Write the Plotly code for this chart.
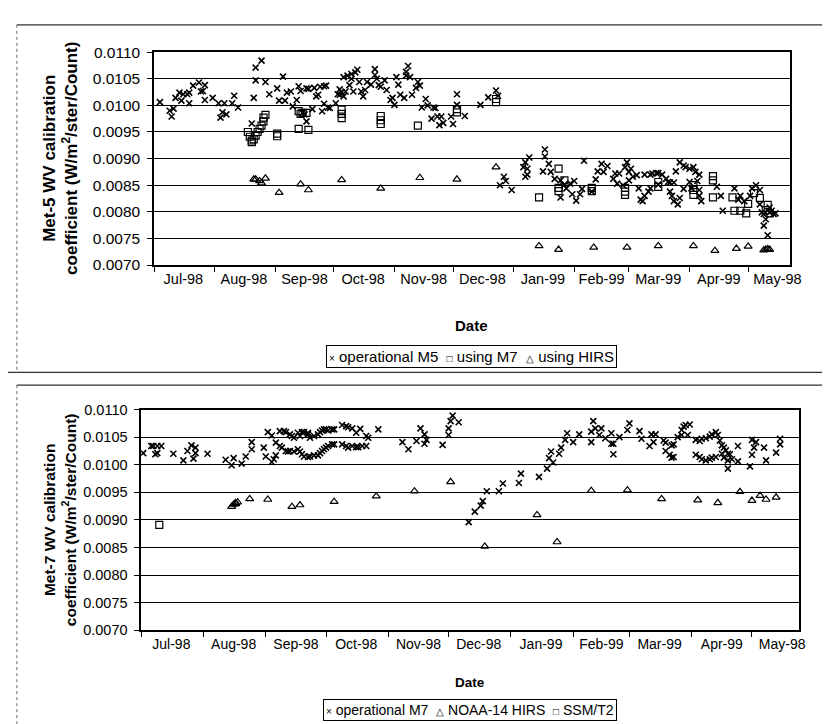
import plotly.graph_objects as go

W, H = 830, 724

# ---------------- axis labels ----------------
month_starts = ["1998-07-01", "1998-08-01", "1998-09-01", "1998-10-01", "1998-11-01",
                "1998-12-01", "1999-01-01", "1999-02-01", "1999-03-01", "1999-04-01",
                "1999-05-01"]
month_mids = ["1998-07-16", "1998-08-16", "1998-09-16", "1998-10-16", "1998-11-16",
              "1998-12-16", "1999-01-16", "1999-02-15", "1999-03-16", "1999-04-16",
              "1999-05-16"]
month_labels = ["Jul-98", "Aug-98", "Sep-98", "Oct-98", "Nov-98", "Dec-98",
                "Jan-99", "Feb-99", "Mar-99", "Apr-99", "May-98"]
y_ticks = [0.0070, 0.0075, 0.0080, 0.0085, 0.0090, 0.0095, 0.0100, 0.0105, 0.0110]

# ---------------- Met-5 panel ----------------
m5_op_dates = [
 "1998-07-04","1998-07-09","1998-07-10","1998-07-11","1998-07-12","1998-07-14","1998-07-15","1998-07-16",
 "1998-07-18","1998-07-19","1998-07-19","1998-07-21","1998-07-24","1998-07-25","1998-07-26","1998-07-27",
 "1998-07-27","1998-07-31","1998-08-03","1998-08-04","1998-08-05","1998-08-07","1998-08-06","1998-08-10",
 "1998-08-11","1998-08-13","1998-08-20","1998-08-21","1998-08-22","1998-08-22","1998-08-25","1998-08-27",
 "1998-08-29","1998-09-02","1998-09-05","1998-09-03","1998-09-06","1998-09-07","1998-09-09","1998-09-10",
 "1998-09-12","1998-09-13","1998-09-14","1998-09-15","1998-09-16","1998-09-17","1998-09-17","1998-09-18",
 "1998-09-20","1998-09-21","1998-09-22","1998-09-23","1998-09-24","1998-09-25","1998-09-26","1998-09-26",
 "1998-09-27","1998-09-28","1998-09-29","1998-10-02","1998-10-03","1998-10-04","1998-10-04","1998-10-05",
 "1998-10-06","1998-10-06","1998-10-07","1998-10-08","1998-10-09","1998-10-10","1998-10-10","1998-10-11",
 "1998-10-12","1998-10-13","1998-10-14","1998-10-15","1998-10-16","1998-10-17","1998-10-18","1998-10-20",
 "1998-10-22","1998-10-22","1998-10-23","1998-10-24","1998-10-25","1998-10-27","1998-10-28","1998-10-30",
 "1998-10-31","1998-11-01","1998-11-02","1998-11-03","1998-11-04","1998-11-06","1998-11-07","1998-11-07",
 "1998-11-08","1998-11-09","1998-11-10","1998-11-12","1998-11-13","1998-11-14","1998-11-15","1998-11-17",
 "1998-11-18","1998-11-21","1998-11-20","1998-11-22","1998-11-23","1998-11-24","1998-11-25","1998-11-26",
 "1998-11-30","1998-12-01","1998-12-03","1998-12-03","1998-12-07","1998-12-15","1998-12-19","1998-12-23",
 "1998-12-24","1998-12-25","1998-12-27","1998-12-28","1998-12-31","1999-01-06","1999-01-07","1999-01-08",
 "1999-01-07","1999-01-09","1999-01-08","1999-01-17","1999-01-17","1999-01-16","1999-01-19","1999-01-20",
 "1999-01-22","1999-01-25","1999-01-27","1999-01-25","1999-01-28","1999-01-30","1999-01-31","1999-02-01",
 "1999-02-02","1999-02-04","1999-02-06","1999-02-05","1999-02-10","1999-02-12","1999-02-13","1999-02-15",
 "1999-02-16","1999-02-18","1999-02-21","1999-02-22","1999-02-23","1999-02-24","1999-02-26","1999-02-27",
 "1999-02-28","1999-03-01","1999-03-01","1999-03-02","1999-03-03","1999-03-05","1999-03-06","1999-03-07",
 "1999-03-08","1999-03-09","1999-03-11","1999-03-12","1999-03-09","1999-03-12","1999-03-13","1999-03-15",
 "1999-03-16","1999-03-18","1999-03-16","1999-03-20","1999-03-21","1999-03-22","1999-03-24","1999-03-25",
 "1999-03-22","1999-03-23","1999-03-24","1999-03-26","1999-03-27","1999-03-27","1999-03-29","1999-03-29",
 "1999-03-30","1999-04-01","1999-04-01","1999-04-02","1999-04-03","1999-04-04","1999-04-05","1999-04-06",
 "1999-04-06","1999-04-07","1999-04-06","1999-04-15","1999-04-17","1999-04-18","1999-04-24","1999-04-26",
 "1999-04-27","1999-04-29","1999-05-02","1999-05-03","1999-05-05","1999-05-07","1999-05-07","1999-05-08",
 "1999-05-09","1999-05-11","1999-05-10","1999-05-12","1999-05-12","1999-05-13","1999-05-14","1999-05-15",
 "1999-05-09"]
m5_op_vals = [
 0.01006,0.00990,0.00979,0.00994,0.01014,0.01024,0.01009,0.01021,
 0.01021,0.01024,0.01004,0.01037,0.01043,0.01026,0.01027,0.01038,
 0.01010,0.01014,0.01004,0.00977,0.00987,0.00983,0.01004,0.01004,
 0.01018,0.00996,0.00966,0.01014,0.01047,0.01071,0.01084,0.01044,
 0.01021,0.01032,0.01054,0.01009,0.01009,0.01024,0.01026,0.00998,
 0.01010,0.01036,0.01027,0.00986,0.00983,0.00970,0.01032,0.01031,
 0.00993,0.01033,0.01017,0.01020,0.01035,0.00989,0.01036,0.01003,
 0.01037,0.00996,0.00995,0.01004,0.01021,0.01020,0.01030,0.01025,
 0.01017,0.01053,0.01026,0.01056,0.01038,0.01050,0.01059,0.01026,
 0.01062,0.01067,0.01044,0.01026,0.01017,0.01029,0.01044,0.01039,
 0.01068,0.01057,0.01050,0.01038,0.01035,0.01047,0.01029,0.01010,
 0.01014,0.01001,0.01053,0.01039,0.01020,0.01014,0.01056,0.01063,
 0.01074,0.01053,0.01020,0.01033,0.01044,0.01037,0.00996,0.01012,
 0.01000,0.00996,0.00975,0.00995,0.00979,0.00963,0.00979,0.00967,
 0.00979,0.00965,0.01021,0.01001,0.00980,0.01001,0.01015,0.01028,
 0.01018,0.00850,0.00866,0.00858,0.00841,0.00884,0.00893,0.00881,
 0.00866,0.00902,0.00870,0.00917,0.00904,0.00876,0.00890,0.00875,
 0.00862,0.00859,0.00851,0.00827,0.00844,0.00853,0.00833,0.00858,
 0.00821,0.00833,0.00896,0.00843,0.00838,0.00861,0.00876,0.00890,
 0.00875,0.00886,0.00862,0.00872,0.00853,0.00872,0.00850,0.00884,
 0.00893,0.00875,0.00859,0.00881,0.00866,0.00869,0.00844,0.00823,
 0.00820,0.00830,0.00838,0.00844,0.00870,0.00870,0.00872,0.00873,
 0.00873,0.00870,0.00851,0.00862,0.00856,0.00855,0.00855,0.00876,
 0.00838,0.00830,0.00820,0.00814,0.00826,0.00893,0.00887,0.00843,
 0.00884,0.00881,0.00856,0.00844,0.00884,0.00875,0.00858,0.00841,
 0.00830,0.00820,0.00870,0.00847,0.00830,0.00802,0.00844,0.00823,
 0.00830,0.00820,0.00830,0.00844,0.00850,0.00841,0.00814,0.00799,
 0.00774,0.00756,0.00786,0.00808,0.00799,0.00802,0.00796,0.00797,
 0.00796]

m5_m7_dates = [
 "1998-08-18","1998-08-19","1998-08-20","1998-08-20","1998-08-21","1998-08-22","1998-08-23","1998-08-24",
 "1998-08-25","1998-08-26","1998-08-26","1998-08-27","1998-09-02","1998-09-02","1998-09-13","1998-09-14",
 "1998-09-13","1998-09-15","1998-09-17","1998-09-18","1998-10-05","1998-10-05","1998-10-05","1998-10-25",
 "1998-10-25","1998-10-25","1998-11-13","1998-12-03","1998-12-03","1998-12-23","1998-12-23","1999-01-14",
 "1999-01-24","1999-01-24","1999-01-24","1999-01-27","1999-02-10","1999-02-10","1999-02-27","1999-02-27",
 "1999-02-27","1999-03-16","1999-03-16","1999-04-03","1999-04-03","1999-04-03","1999-04-13","1999-04-13",
 "1999-04-13","1999-04-23","1999-04-24","1999-04-27","1999-04-30","1999-05-01","1999-05-04","1999-05-07",
 "1999-05-11","1999-05-10","1999-05-12"]
m5_m7_vals = [
 0.00950,0.00941,0.00934,0.00931,0.00936,0.00943,0.00950,0.00956,
 0.00962,0.00970,0.00977,0.00982,0.00947,0.00942,0.00989,0.00984,
 0.00956,0.00986,0.00986,0.00954,0.00992,0.00984,0.00976,0.00980,
 0.00972,0.00965,0.00962,0.00993,0.00987,0.01012,0.01006,0.00827,
 0.00881,0.00845,0.00839,0.00859,0.00845,0.00839,0.00845,0.00838,
 0.00832,0.00856,0.00847,0.00850,0.00841,0.00832,0.00867,0.00859,
 0.00827,0.00827,0.00802,0.00802,0.00797,0.00815,0.00835,0.00826,
 0.00813,0.00803,0.00797]

m5_hirs_dates = [
 "1998-08-21","1998-08-22","1998-08-24","1998-08-25","1998-08-27","1998-09-03","1998-09-14","1998-09-18",
 "1998-10-05","1998-10-25","1998-11-14","1998-12-03","1998-12-23","1999-01-14","1999-01-24","1999-02-11",
 "1999-02-28","1999-03-16","1999-04-03","1999-04-14","1999-04-25","1999-05-01","1999-05-09","1999-05-10",
 "1999-05-11","1999-05-12"]
m5_hirs_vals = [
 0.00861,0.00861,0.00858,0.00854,0.00863,0.00836,0.00852,0.00841,
 0.00860,0.00844,0.00864,0.00861,0.00884,0.00736,0.00729,0.00733,
 0.00733,0.00736,0.00736,0.00727,0.00731,0.00735,0.00728,0.00729,
 0.00730,0.00729]

# ---------------- Met-7 panel ----------------
m7_op_dates = [
 "1998-07-02","1998-07-06","1998-07-07","1998-07-09","1998-07-11","1998-07-08","1998-07-09","1998-07-17",
 "1998-07-22","1998-07-24","1998-07-26","1998-07-27","1998-07-28","1998-07-28","1998-08-03","1998-08-12",
 "1998-08-15","1998-08-16","1998-08-20","1998-08-22","1998-08-25","1998-08-25","1998-08-31","1998-09-01",
 "1998-09-02","1998-09-04","1998-09-04","1998-09-05","1998-09-06","1998-09-06","1998-09-08",
 "1998-09-09","1998-09-11","1998-09-12","1998-09-13","1998-09-15",
 "1998-09-08","1998-09-10","1998-09-11","1998-09-13","1998-09-14","1998-09-15",
 "1998-09-17","1998-09-18","1998-09-19","1998-09-20","1998-09-22","1998-09-22",
 "1998-09-17","1998-09-18","1998-09-19","1998-09-20","1998-09-22","1998-09-23","1998-09-25","1998-09-27","1998-09-28",
 "1998-09-23","1998-09-25","1998-09-27","1998-09-28","1998-09-29","1998-09-30","1998-10-01","1998-10-02","1998-10-04","1998-10-05",
 "1998-09-29","1998-09-30","1998-10-01","1998-10-02","1998-10-04","1998-10-05",
 "1998-10-09","1998-10-11","1998-10-12","1998-10-14",
 "1998-10-09","1998-10-11","1998-10-12","1998-10-14","1998-10-16","1998-10-17","1998-10-19","1998-10-21",
 "1998-10-16","1998-10-18","1998-10-21","1998-10-22","1998-10-27",
 "1998-11-08","1998-11-11","1998-11-15","1998-11-17","1998-11-19","1998-11-19","1998-11-20","1998-11-28",
 "1998-12-01","1998-12-01","1998-12-02","1998-12-03","1998-12-06","1998-12-11","1998-12-14","1998-12-17",
 "1998-12-18","1998-12-20","1998-12-26","1998-12-28","1999-01-05","1999-01-06","1999-01-15","1999-01-19",
 "1999-01-20","1999-01-21","1999-01-22","1999-01-25","1999-01-26","1999-01-28","1999-01-29","1999-02-01",
 "1999-02-04","1999-02-10","1999-02-10","1999-02-11","1999-02-12","1999-02-15","1999-02-14","1999-02-17",
 "1999-02-20","1999-02-20","1999-02-21","1999-02-21","1999-02-24","1999-02-28","1999-03-01","1999-03-06",
 "1999-03-07","1999-03-11","1999-03-12","1999-03-14","1999-03-13","1999-03-18","1999-03-19","1999-03-19",
 "1999-03-21","1999-03-22","1999-03-23","1999-03-22","1999-03-23","1999-03-25","1999-03-27","1999-03-28",
 "1999-03-29","1999-03-31","1999-03-27","1999-03-30",
 "1999-04-03","1999-04-05","1999-04-06","1999-04-08","1999-04-10","1999-04-11","1999-04-13",
 "1999-04-03","1999-04-05","1999-04-06","1999-04-08","1999-04-10","1999-04-11","1999-04-13","1999-04-14",
 "1999-04-15","1999-04-16","1999-04-17","1999-04-18","1999-04-19","1999-04-16","1999-04-17","1999-04-19",
 "1999-04-20","1999-04-21","1999-04-19","1999-04-24","1999-04-24","1999-04-30","1999-05-01","1999-05-01",
 "1999-05-02","1999-05-03","1999-05-07","1999-05-08","1999-05-13","1999-05-15","1999-05-15"]
m7_op_vals = [
 0.01021,0.01034,0.01034,0.01034,0.01034,0.01019,0.01021,0.01020,
 0.01008,0.01025,0.01035,0.01011,0.01021,0.01031,0.01020,0.01009,
 0.00999,0.01012,0.01002,0.01015,0.01028,0.01041,0.01031,0.01015,
 0.01059,0.01005,0.01053,0.01010,0.01017,0.01040,0.01034,
 0.01031,0.01025,0.01024,0.01025,0.01024,
 0.01061,0.01061,0.01059,0.01055,0.01052,0.01049,
 0.01058,0.01052,0.01059,0.01059,0.01058,0.01055,
 0.01028,0.01024,0.01019,0.01015,0.01014,0.01015,0.01017,0.01017,0.01021,
 0.01049,0.01052,0.01055,0.01059,0.01062,0.01064,0.01064,0.01062,0.01064,0.01064,
 0.01025,0.01028,0.01031,0.01034,0.01037,0.01037,
 0.01072,0.01070,0.01068,0.01066,
 0.01037,0.01034,0.01031,0.01034,0.01032,0.01032,0.01034,0.01034,
 0.01058,0.01065,0.01052,0.01049,0.01064,
 0.01041,0.01028,0.01043,0.01066,0.01055,0.01038,0.01045,0.01036,
 0.01054,0.01066,0.01079,0.01089,0.01077,0.00896,0.00915,0.00926,
 0.00934,0.00952,0.00952,0.00966,0.00967,0.00984,0.00978,0.00993,
 0.01012,0.01024,0.01004,0.01020,0.01031,0.01045,0.01057,0.01041,
 0.01055,0.01041,0.01060,0.01079,0.01066,0.01066,0.01054,0.01048,
 0.01057,0.01038,0.01038,0.01019,0.01050,0.01063,0.01075,0.01061,
 0.01047,0.01034,0.01055,0.01055,0.01041,0.01044,0.01040,0.01025,
 0.01018,0.01035,0.01037,0.01013,0.01014,0.01050,0.01063,0.01069,
 0.01072,0.01073,0.01054,0.01054,
 0.01018,0.01014,0.01010,0.01008,0.01010,0.01013,0.01014,
 0.01045,0.01043,0.01047,0.01048,0.01051,0.01055,0.01059,0.01054,
 0.01044,0.01035,0.01031,0.01026,0.01020,0.01020,0.01013,0.01008,
 0.01019,0.01010,0.00993,0.01034,0.01006,0.00997,0.01018,0.01045,
 0.01031,0.01041,0.01031,0.01008,0.01022,0.01047,0.01037]

m7_hirs_dates = [
 "1998-08-15","1998-08-16","1998-08-17","1998-08-17","1998-08-18","1998-08-24","1998-09-02","1998-09-14",
 "1998-09-18","1998-10-05","1998-10-26","1998-11-14","1998-12-02","1998-12-19","1999-01-14","1999-01-24",
 "1999-02-10","1999-02-28","1999-03-17","1999-04-04","1999-04-14","1999-04-25","1999-05-01","1999-05-05",
 "1999-05-08","1999-05-13"]
m7_hirs_vals = [
 0.00924,0.00928,0.00931,0.00929,0.00932,0.00938,0.00937,0.00924,
 0.00927,0.00933,0.00943,0.00952,0.00969,0.00852,0.00909,0.00860,
 0.00953,0.00954,0.00938,0.00936,0.00931,0.00951,0.00935,0.00944,
 0.00937,0.00941]

m7_ssmt2_dates = ["1998-07-10"]
m7_ssmt2_vals = [0.00891]

# legend entries: (symbol glyph, label)
top_legend = [("\u00d7", "operational M5"), ("\u25a1", "using M7"), ("\u25b3", "using HIRS")]
bottom_legend = [("\u00d7", "operational M7"), ("\u25b3", "NOAA-14 HIRS"), ("\u25a1", "SSM/T2")]

# ---------------- figure ----------------
FONT = "Liberation Sans, Arial, sans-serif"


def px_x(p):
    return p / W


def px_y(p):
    return 1 - p / H


fig = go.Figure()


def add(x, y, name, symbol, size, lw, xa, ya):
    fig.add_trace(go.Scatter(
        x=x, y=y, mode="markers", name=name, xaxis=xa, yaxis=ya, showlegend=False,
        marker=dict(symbol=symbol, size=size, color="black",
                    line=dict(color="black", width=lw))))


add(m5_op_dates, m5_op_vals, top_legend[0][1], "x-thin", 6, 1.6, "x", "y")
add(m5_m7_dates, m5_m7_vals, top_legend[1][1], "square-open", 7, 1.2, "x", "y")
add(m5_hirs_dates, m5_hirs_vals, top_legend[2][1], "triangle-up-open", 7, 1.2, "x", "y")

add(m7_op_dates, m7_op_vals, bottom_legend[0][1], "x-thin", 6, 1.6, "x2", "y2")
add(m7_hirs_dates, m7_hirs_vals, bottom_legend[1][1], "triangle-up-open", 7, 1.2, "x2", "y2")
add(m7_ssmt2_dates, m7_ssmt2_vals, bottom_legend[2][1], "square-open", 7, 1.2, "x2", "y2")


def xaxis(dom, rng, anchor, fs):
    return dict(domain=dom, anchor=anchor, type="date", range=rng,
                tickmode="array", tickvals=month_mids, ticktext=month_labels,
                ticks="", showgrid=False, zeroline=False,
                showline=True, linecolor="black", linewidth=1.5, mirror=True,
                tickfont=dict(family=FONT, size=fs, color="black"),
                minor=dict(tickmode="array", tickvals=month_starts, ticks="outside",
                           ticklen=5, tickwidth=1, tickcolor="black", showgrid=False))


def yaxis(dom, anchor, fs):
    return dict(domain=dom, anchor=anchor, range=[0.0070, 0.0110],
                tickmode="array", tickvals=y_ticks,
                ticktext=[f"{v:.4f}" for v in y_ticks],
                ticks="outside", ticklen=5, tickcolor="black", ticklabelstandoff=4,
                showgrid=True, gridcolor="black", gridwidth=1, zeroline=False,
                showline=True, linecolor="black", linewidth=1.5, mirror=True,
                tickfont=dict(family=FONT, size=fs, color="black"))


def legend_text(entries):
    parts = [f'<span style="font-size:10px">{s}</span> {t}' for s, t in entries]
    return "  ".join(parts)


fig.update_layout(
    width=W, height=H,
    margin=dict(l=0, r=0, t=0, b=0),
    paper_bgcolor="white", plot_bgcolor="white",
    font=dict(family=FONT, color="black"),
    showlegend=False,
    xaxis=xaxis([px_x(148), px_x(793)], ["1998-07-01", "1999-05-22 16:00"], "y", 14.5),
    yaxis=yaxis([px_y(254), px_y(36)], "x", 15.5),
    xaxis2=xaxis([px_x(135), px_x(802)], ["1998-07-01", "1999-05-24 14:00"], "y2", 14),
    yaxis2=yaxis([px_y(628), px_y(402)], "x2", 14.5),
    annotations=[
        dict(text="<b>Met-5 WV calibration<br>coefficient (W/m<sup>2</sup>/ster/Count)</b>",
             x=px_x(53), y=px_y(145), xref="paper", yref="paper", textangle=-90,
             showarrow=False, xanchor="center", yanchor="middle",
             font=dict(family=FONT, size=17, color="black")),
        dict(text="<b>Date</b>", x=px_x(470), y=px_y(316), xref="paper", yref="paper",
             showarrow=False, xanchor="center", yanchor="middle",
             font=dict(family=FONT, size=15, color="black")),
        dict(text=legend_text(top_legend), x=px_x(470), y=px_y(348), xref="paper", yref="paper",
             showarrow=False, xanchor="center", yanchor="middle",
             bordercolor="black", borderwidth=1, borderpad=2, bgcolor="white",
             font=dict(family=FONT, size=15, color="black")),
        dict(text="<b>Met-7 WV calibration<br>coefficient (W/m<sup>2</sup>/ster/Count)</b>",
             x=px_x(53), y=px_y(515), xref="paper", yref="paper", textangle=-90,
             showarrow=False, xanchor="center", yanchor="middle",
             font=dict(family=FONT, size=15.5, color="black")),
        dict(text="<b>Date</b>", x=px_x(468), y=px_y(681), xref="paper", yref="paper",
             showarrow=False, xanchor="center", yanchor="middle",
             font=dict(family=FONT, size=13.5, color="black")),
        dict(text=legend_text(bottom_legend), x=px_x(468), y=px_y(710), xref="paper", yref="paper",
             showarrow=False, xanchor="center", yanchor="middle",
             bordercolor="black", borderwidth=1, borderpad=2, bgcolor="white",
             font=dict(family=FONT, size=14, color="black")),
    ],
    shapes=[
        dict(type="line", xref="paper", yref="paper", x0=px_x(9), x1=1, y0=px_y(8), y1=px_y(8),
             line=dict(color="#333", width=1.2)),
        dict(type="line", xref="paper", yref="paper", x0=px_x(9), x1=px_x(9), y0=px_y(8), y1=px_y(364),
             line=dict(color="#666", width=1, dash="dot")),
        dict(type="line", xref="paper", yref="paper", x0=0, x1=1, y0=px_y(364), y1=px_y(364),
             line=dict(color="#333", width=1.2)),
        dict(type="line", xref="paper", yref="paper", x0=px_x(9), x1=1, y0=px_y(377), y1=px_y(377),
             line=dict(color="#333", width=1.2)),
        dict(type="line", xref="paper", yref="paper", x0=px_x(9), x1=px_x(9), y0=px_y(377), y1=0,
             line=dict(color="#666", width=1, dash="dot")),
    ],
)

fig.write_html("out.html")
